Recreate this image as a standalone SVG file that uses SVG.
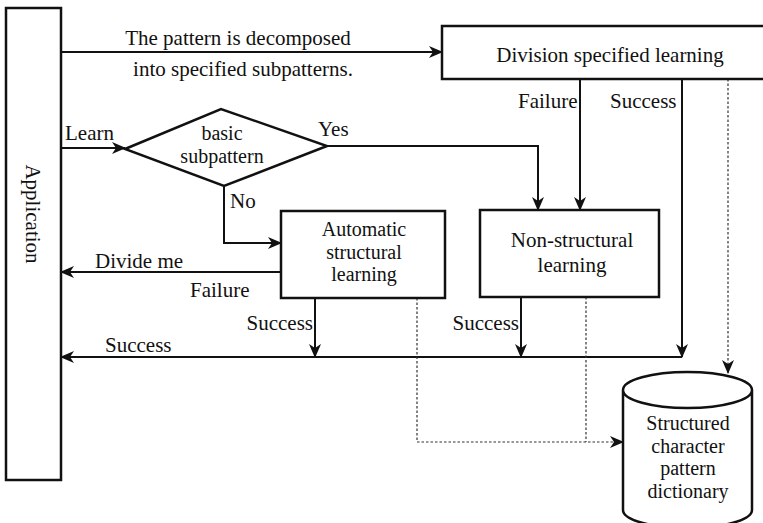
<svg xmlns="http://www.w3.org/2000/svg" width="763" height="523" viewBox="0 0 763 523">
<style>
text{font-family:"Liberation Serif","DejaVu Serif",serif;font-size:21px;fill:#111}
.c{text-anchor:middle}
.r{text-anchor:end}
.s{font-size:20px}
.box{fill:#fff;stroke:#111;stroke-width:2.5}
.ln{fill:none;stroke:#111;stroke-width:2}
.dt{fill:none;stroke:#333;stroke-width:1.2;stroke-dasharray:2.5,2}
</style>
<defs>
<marker id="ah" viewBox="0 0 14 12" refX="13" refY="6" markerWidth="14" markerHeight="12" markerUnits="userSpaceOnUse" orient="auto">
<path d="M0,0 L14,6 L0,12 L4,6 z" fill="#111"/>
</marker>
</defs>
<g id="connectors">
<line class="ln" x1="61" y1="52" x2="442" y2="52" marker-end="url(#ah)"/>
<line class="ln" x1="61" y1="148" x2="125" y2="148" marker-end="url(#ah)"/>
<polyline class="ln" points="327,146 538,146 538,210" marker-end="url(#ah)"/>
<line class="ln" x1="580" y1="79" x2="580" y2="210" marker-end="url(#ah)"/>
<line class="ln" x1="682" y1="79" x2="682" y2="357" marker-end="url(#ah)"/>
<polyline class="ln" points="224,186 224,243 281,243" marker-end="url(#ah)"/>
<line class="ln" x1="281" y1="272" x2="61" y2="272" marker-end="url(#ah)"/>
<line class="ln" x1="315" y1="298" x2="315" y2="357" marker-end="url(#ah)"/>
<line class="ln" x1="521" y1="297" x2="521" y2="357" marker-end="url(#ah)"/>
<line class="ln" x1="682" y1="357" x2="61" y2="357" marker-end="url(#ah)"/>
<polyline class="dt" points="417,298 417,442 623,442" marker-end="url(#ah)"/>
<line class="dt" x1="586" y1="297" x2="586" y2="442"/>
<line class="dt" x1="728" y1="79" x2="728" y2="373" marker-end="url(#ah)"/>
</g>
<g id="application">
<rect class="box" x="6" y="8" width="55" height="472"/>
<text class="c" transform="translate(26,214) rotate(90)">Application</text>
</g>
<g id="division">
<rect class="box" x="442" y="26" width="330" height="53"/>
<text class="c" x="610" y="62">Division specified learning</text>
</g>
<g id="decision">
<polygon class="box" points="125,149 221,109 327,146 224,186"/>
<text class="c s" x="222" y="140">basic</text>
<text class="c s" x="222" y="163">subpattern</text>
</g>
<g id="automatic">
<rect class="box" x="281" y="211" width="164" height="87"/>
<text class="c s" x="364" y="236">Automatic</text>
<text class="c s" x="364" y="258.5">structural</text>
<text class="c s" x="364" y="281">learning</text>
</g>
<g id="nonstructural">
<rect class="box" x="480" y="210" width="179" height="87"/>
<text class="c" x="572" y="247">Non-structural</text>
<text class="c" x="572" y="272">learning</text>
</g>
<g id="dictionary">
<path class="box" d="M623,390 L623,510 A64.5,18 0 0 0 752,510 L752,390 A64.5,18 0 0 0 623,390 A64.5,18 0 0 0 752,390"/>
<text class="c s" x="688" y="430">Structured</text>
<text class="c s" x="688" y="452.5">character</text>
<text class="c s" x="688" y="475">pattern</text>
<text class="c s" x="688" y="497.5">dictionary</text>
</g>
<g id="labels">
<text class="c" x="238" y="45">The pattern is decomposed</text>
<text class="c" x="243" y="76">into specified subpatterns.</text>
<text x="65" y="140">Learn</text>
<text x="318" y="136">Yes</text>
<text x="230" y="208">No</text>
<text x="518" y="108">Failure</text>
<text x="610" y="108">Success</text>
<text x="95" y="268">Divide me</text>
<text x="190" y="297">Failure</text>
<text class="r" x="313" y="330">Success</text>
<text class="r" x="519" y="330">Success</text>
<text x="105" y="352">Success</text>
</g>
</svg>
